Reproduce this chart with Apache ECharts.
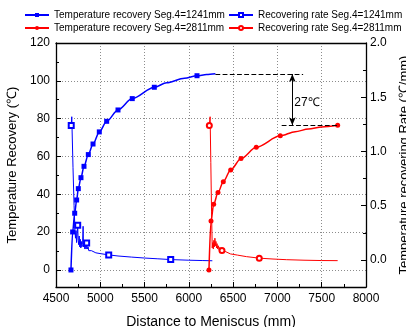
<!DOCTYPE html>
<html>
<head>
<meta charset="utf-8">
<script src="https://cdn.jsdelivr.net/npm/echarts@6/dist/echarts.min.js"></script>
<style>
  html, body { margin: 0; padding: 0; background: #fff; }
  #chart { width: 406px; height: 327px; }
</style>
</head>
<body>
<div id="chart"></div>
<script>
// temperature recovery, Seg.4=1241mm (filled squares = measured points)
var blueTempX = [4669, 4688, 4711, 4733, 4752, 4782, 4816, 4865, 4918, 4989, 5072, 5200, 5361, 5610, 6092];
var blueTempY = [0, 20.1, 30.0, 37.0, 43.0, 48.8, 54.8, 61.0, 66.6, 73.0, 78.6, 84.6, 90.6, 96.6, 102.7];
// curve points without marker
var blueTempTailX = [5750, 5950, 6200, 6300];
var blueTempTailY = [99.0, 101.4, 103.3, 103.7];

// temperature recovery, Seg.4=2811mm
var redTempX = [6227, 6250, 6280, 6329, 6389, 6472, 6589, 6761, 7032, 7680];
var redTempY = [0, 25.9, 34.7, 40.9, 46.7, 52.9, 58.9, 64.9, 70.9, 76.5];
var redTempTailX = [7200, 7350, 7500];
var redTempTailY = [73.1, 74.5, 75.6];

// recovering rate, Seg.4=1241mm
var blueRateX = [4672, 4678, 4692, 4704, 4714, 4720, 4726, 4732, 4738, 4745, 4750, 4756, 4762, 4768, 4774, 4780, 4786, 4792, 4800, 4806, 4810, 4818, 4826, 4834, 4840, 4846, 4854, 4862, 4870, 4880, 4890, 4900, 4920, 4950, 5000, 5095, 5200, 5350, 5500, 5650, 5795, 6000, 6150, 6265];
var blueRateY = [1.24, 1.32, 0.85, 0.5, 0.28, 0.2, 0.27, 0.16, 0.24, 0.32, 0.18, 0.14, 0.22, 0.12, 0.19, 0.11, 0.17, 0.12, 0.14, 0.31, 0.12, 0.15, 0.1, 0.14, 0.1, 0.155, 0.1, 0.12, 0.085, 0.1, 0.078, 0.085, 0.07, 0.065, 0.058, 0.046, 0.036, 0.026, 0.017, 0.01, 0.003, -0.003, -0.006, -0.008];
var blueRateMarks = [4672, 4745, 4846, 5095, 5795];

// recovering rate, Seg.4=2811mm
var redRateX = [6231, 6240, 6248, 6256, 6264, 6270, 6276, 6282, 6288, 6294, 6300, 6306, 6312, 6318, 6326, 6334, 6342, 6350, 6358, 6366, 6374, 6385, 6395, 6410, 6430, 6470, 6550, 6650, 6795, 6950, 7100, 7300, 7500, 7680];
var redRateY = [1.24, 1.32, 0.9, 0.45, 0.11, 0.16, 0.1, 0.18, 0.12, 0.2, 0.13, 0.17, 0.11, 0.15, 0.1, 0.13, 0.09, 0.115, 0.085, 0.1, 0.086, 0.09, 0.072, 0.078, 0.065, 0.055, 0.044, 0.03, 0.016, 0.008, 0.002, -0.003, -0.006, -0.007];
var redRateMarks = [6231, 6374, 6795];

var leftTicks = [0, 20, 40, 60, 80, 100, 120];
var leftMinor = [10, 30, 50, 70, 90, 110];
var rightTicks = [0, 0.5, 1.0, 1.5, 2.0];
var rightMinor = [0.25, 0.75, 1.25, 1.75];

// annotation: 27 degree gap
var gapTop = 103.6, gapBottom = 76.5, gapX = 7168;

var names = [
  'Temperature recovery Seg.4=1241mm',
  'Temperature recovery Seg.4=2811mm',
  'Recovering rate Seg.4=1241mm',
  'Recovering rate Seg.4=2811mm'
];

function tempData(xs, ys, tx, ty) {
  var d = [];
  for (var i = 0; i < xs.length; i++) d.push({ value: [xs[i], ys[i]] });
  for (var j = 0; j < tx.length; j++) d.push({ value: [tx[j], ty[j]], symbol: 'none' });
  d.sort(function (a, b) { return a.value[0] - b.value[0]; });
  return d;
}
function rateData(xs, ys, marks) {
  return xs.map(function (x, i) {
    var it = { value: [x, ys[i]] };
    if (marks.indexOf(x) < 0) it.symbol = 'none';
    return it;
  });
}

var BLUE = '#0000ff', RED = '#ff0000', FONT = 'Arial, "Liberation Sans", sans-serif';
var GRIDLINE = { type: [1, 2], color: '#8c8c8c', width: 1 };
var AXISLINE = { show: true, onZero: false, lineStyle: { color: '#000', width: 1.3 } };

function yAxisBase(pos, min, max) {
  return {
    type: 'value', position: pos, min: min, max: max,
    axisLine: AXISLINE,
    splitLine: { show: false }
  };
}

var yLeft = yAxisBase('left', -9, 120);
yLeft.name = 'Temperature Recovery (\u2103)';
yLeft.nameLocation = 'middle';
yLeft.nameRotate = 90;
yLeft.nameGap = 35;
yLeft.nameTextStyle = { fontSize: 13, color: '#000' };
yLeft.axisTick = { inside: true, length: 5, customValues: leftTicks, lineStyle: { color: '#000' } };
yLeft.axisLabel = { customValues: leftTicks, fontSize: 12, color: '#000', margin: 6 };
yLeft.splitLine = { show: true, lineStyle: GRIDLINE };

var yRight = yAxisBase('right', -0.25, 2.0);
yRight.name = 'Temperature recovering Rate (\u2103/mm)';
yRight.nameLocation = 'middle';
yRight.nameRotate = 90;
yRight.nameGap = 29;
yRight.nameTextStyle = { fontSize: 13, color: '#000' };
yRight.axisTick = { inside: true, length: 5, customValues: rightTicks, lineStyle: { color: '#000' } };
yRight.axisLabel = { customValues: rightTicks, fontSize: 12, color: '#000', margin: 4,
  formatter: function (v) { return v.toFixed(1); } };

var yLeftMinor = yAxisBase('left', -9, 120);
yLeftMinor.axisLine = { show: false };
yLeftMinor.axisLabel = { show: false };
yLeftMinor.axisTick = { inside: true, length: 3, customValues: leftMinor, lineStyle: { color: '#000' } };

var yRightMinor = yAxisBase('right', -0.25, 2.0);
yRightMinor.axisLine = { show: false };
yRightMinor.axisLabel = { show: false };
yRightMinor.axisTick = { inside: true, length: 3, customValues: rightMinor, lineStyle: { color: '#000' } };

var dashed = { type: 'dashed', color: '#000', width: 1.2 };

var option = {
  animation: false,
  backgroundColor: '#fff',
  textStyle: { fontFamily: FONT, color: '#000' },
  grid: { left: 56, right: 40, top: 43, bottom: 40, outerBoundsMode: 'none', containLabel: false },
  legend: [
    { orient: 'vertical', left: 24, top: 10, padding: 0, itemWidth: 24, itemHeight: 5, itemGap: 3,
      data: [names[0], names[1]], textStyle: { fontSize: 10, color: '#000', fontFamily: FONT } },
    { orient: 'vertical', left: 228, top: 10, padding: 0, itemWidth: 24, itemHeight: 5, itemGap: 3,
      data: [names[2], names[3]], textStyle: { fontSize: 10, color: '#000', fontFamily: FONT } }
  ],
  xAxis: [
    {
      type: 'value', position: 'bottom', min: 4500, max: 8000, interval: 500,
      name: 'Distance to Meniscus (mm)', nameLocation: 'middle', nameGap: 28,
      nameTextStyle: { fontSize: 14, color: '#000' },
      axisLine: AXISLINE,
      axisTick: { inside: true, length: 5, lineStyle: { color: '#000' } },
      minorTick: { show: true, splitNumber: 2, length: 3, lineStyle: { color: '#000' } },
      axisLabel: { fontSize: 12, color: '#000', margin: 6, formatter: function (v) { return String(v); } },
      splitLine: { show: true, lineStyle: GRIDLINE }
    },
    {
      // top frame line
      type: 'value', position: 'top', min: 4500, max: 8000, interval: 500,
      axisLine: AXISLINE, axisTick: { show: false }, axisLabel: { show: false },
      splitLine: { show: false }
    }
  ],
  yAxis: [yLeft, yRight, yLeftMinor, yRightMinor],
  series: [
    {
      name: names[2], type: 'line', yAxisIndex: 1, z: 2,
      data: rateData(blueRateX, blueRateY, blueRateMarks),
      symbol: 'emptyRect', symbolSize: 5, showAllSymbol: true,
      lineStyle: { color: BLUE, width: 1 }, itemStyle: { color: BLUE, borderWidth: 1 }
    },
    {
      name: names[3], type: 'line', yAxisIndex: 1, z: 2,
      data: rateData(redRateX, redRateY, redRateMarks),
      symbol: 'emptyCircle', symbolSize: 5, showAllSymbol: true,
      lineStyle: { color: RED, width: 1 }, itemStyle: { color: RED, borderWidth: 1 }
    },
    {
      name: names[0], type: 'line', yAxisIndex: 0, z: 3,
      data: tempData(blueTempX, blueTempY, blueTempTailX, blueTempTailY),
      smooth: 0.3, smoothMonotone: 'x',
      symbol: 'rect', symbolSize: 5, showAllSymbol: true,
      lineStyle: { color: BLUE, width: 1.5 }, itemStyle: { color: BLUE },
      markLine: {
        silent: true, symbol: 'none', label: { show: false }, lineStyle: dashed,
        data: [
          [{ coord: [6300, gapTop] }, { coord: [7290, gapTop] }],
          [{ coord: [7048, gapBottom] }, { coord: [7680, gapBottom] }],
          [{ coord: [gapX, gapTop], symbol: 'arrow', symbolSize: [5, 8] },
           { coord: [gapX, gapBottom], symbol: 'arrow', symbolSize: [5, 8],
             lineStyle: { type: 'solid', color: '#000', width: 1 } }]
        ]
      },
      markPoint: {
        silent: true, symbol: 'circle', symbolSize: 0,
        data: [{ coord: [gapX, (gapTop + gapBottom) / 2 - 1.5] }],
        label: { show: true, position: 'right', distance: 2, formatter: '27\u2103',
          fontSize: 12, color: '#000', fontFamily: FONT }
      }
    },
    {
      name: names[1], type: 'line', yAxisIndex: 0, z: 3,
      data: tempData(redTempX, redTempY, redTempTailX, redTempTailY),
      smooth: 0.3, smoothMonotone: 'x',
      symbol: 'circle', symbolSize: 5, showAllSymbol: true,
      lineStyle: { color: RED, width: 1.5 }, itemStyle: { color: RED }
    }
  ]
};

var chart = echarts.init(document.getElementById('chart'), null, { renderer: 'canvas' });
chart.setOption(option);
</script>
</body>
</html>
